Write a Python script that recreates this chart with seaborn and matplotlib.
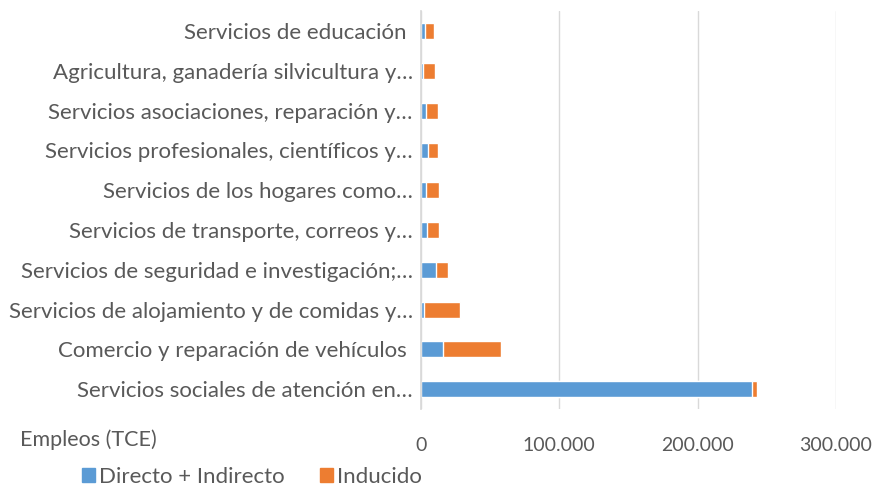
import numpy as np
import pandas as pd
import seaborn as sns
import matplotlib.pyplot as plt
from matplotlib.patches import Patch
from matplotlib.ticker import FuncFormatter

sectores = [
    "Servicios de educación ",
    "Agricultura, ganadería silvicultura y…",
    "Servicios asociaciones, reparación y…",
    "Servicios profesionales, científicos y…",
    "Servicios de los hogares como…",
    "Servicios de transporte, correos y…",
    "Servicios de seguridad e investigación;…",
    "Servicios de alojamiento y de comidas y…",
    "Comercio y reparación de vehículos ",
    "Servicios sociales de atención en…",
]
directo_indirecto = [2900, 1400, 3900, 5300, 3900, 4600, 10800, 2400, 16100, 239500]
inducido = [6700, 8700, 8600, 7200, 8900, 8400, 9000, 25800, 41700, 3200]

df = pd.DataFrame({"sector": sectores,
                   "directo": directo_indirecto,
                   "inducido": inducido})
df["total"] = df["directo"] + df["inducido"]

sns.set_theme(style="white")
plt.rcParams['font.family'] = ['Lato', 'DejaVu Sans']

azul = "#5B9BD5"
naranja = "#ED7D31"
gris = "#595959"

fig = plt.figure(figsize=(8.78, 4.87), dpi=100)
ax = fig.add_axes([0.4795, 0.160, 0.4725, 0.817])

sns.barplot(data=df, x="total", y="sector", color=naranja, width=0.4,
            saturation=1, ax=ax)
sns.barplot(data=df, x="directo", y="sector", color=azul, width=0.4,
            saturation=1, ax=ax)

ax.set_xlim(0, 300000)
ax.set_xticks([0, 100000, 200000, 300000])
ax.xaxis.set_major_formatter(FuncFormatter(lambda v, p: f"{int(v):,}".replace(",", ".")))
ax.grid(axis="x", color="#D9D9D9", linewidth=1)
ax.set_axisbelow(True)
for s in ["top", "right", "bottom"]:
    ax.spines[s].set_visible(False)
ax.spines["left"].set_color("#D9D9D9")
ax.set_xlabel("")
ax.set_ylabel("")
ax.tick_params(axis="y", labelsize=16, colors=gris, length=0, pad=6)
ax.tick_params(axis="x", labelsize=14, colors=gris, length=0, pad=20)

fig.text(20 / 878, 1 - 440 / 487, "Empleos (TCE)", fontsize=15.5, color=gris,
         va="center", ha="left")

handles = [Patch(color=azul, label="Directo + Indirecto"),
           Patch(color=naranja, label="Inducido")]
fig.legend(handles=handles, loc="center left", bbox_to_anchor=(82 / 878, 1 - 477 / 487),
           ncol=2, frameon=False, fontsize=16, handlelength=0.6, handleheight=0.6,
           handletextpad=0.15, columnspacing=1.6, labelcolor=gris, borderaxespad=0,
           borderpad=0)

fig.savefig("out.png", dpi=100)
